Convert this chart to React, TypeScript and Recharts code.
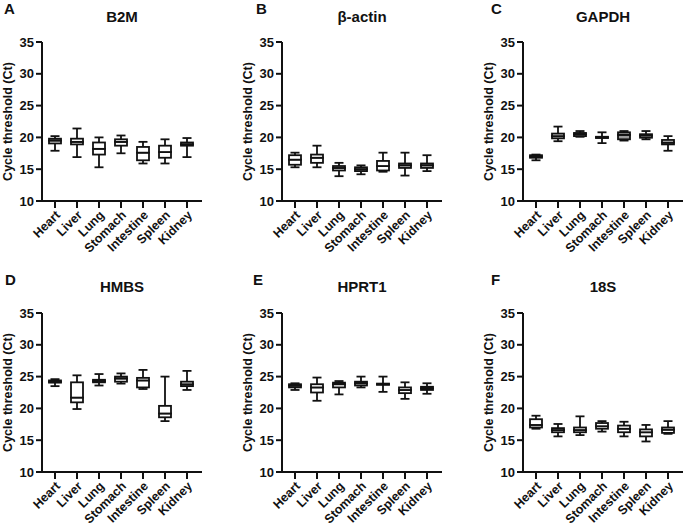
import React from "react";
import { ComposedChart, Bar, XAxis, YAxis, Label } from "recharts";

const tissues = ["Heart", "Liver", "Lung", "Stomach", "Intestine", "Spleen", "Kidney"];
const yTicks = [10, 15, 20, 25, 30, 35];

// each row: [min, Q1, median, Q3, max] in tissue order
const b2m = [
  [17.9, 19.05, 19.5, 19.8, 20.2],
  [16.9, 18.9, 19.3, 19.8, 21.4],
  [15.3, 17.3, 18.2, 19.2, 20.0],
  [17.5, 18.7, 19.3, 19.7, 20.3],
  [15.9, 16.4, 17.6, 18.5, 19.3],
  [15.9, 16.8, 17.7, 18.7, 19.7],
  [16.9, 18.7, 18.9, 19.2, 19.9],
];
const bActin = [
  [15.3, 15.7, 16.5, 17.2, 17.6],
  [15.3, 16.0, 16.8, 17.3, 18.7],
  [13.9, 14.8, 15.2, 15.5, 16.0],
  [14.2, 14.7, 15.0, 15.3, 15.6],
  [14.6, 14.8, 15.5, 16.3, 17.6],
  [14.0, 15.2, 15.6, 15.9, 17.6],
  [14.7, 15.2, 15.6, 15.9, 17.2],
];
const gapdh = [
  [16.4, 16.8, 17.0, 17.2, 17.3],
  [19.4, 19.85, 20.2, 20.6, 21.7],
  [20.1, 20.2, 20.5, 20.7, 21.0],
  [19.1, 19.9, 20.0, 20.1, 20.8],
  [19.5, 19.7, 20.4, 20.8, 21.0],
  [19.7, 19.95, 20.3, 20.5, 21.0],
  [17.9, 18.9, 19.2, 19.6, 20.2],
];
const hmbs = [
  [23.5, 24.05, 24.2, 24.4, 24.6],
  [19.9, 20.95, 21.7, 24.1, 25.2],
  [23.6, 24.1, 24.3, 24.5, 25.4],
  [23.9, 24.2, 24.7, 25.0, 25.5],
  [23.05, 23.3, 24.4, 24.8, 26.05],
  [18.0, 18.6, 19.2, 20.4, 25.0],
  [22.9, 23.5, 23.8, 24.2, 25.9],
];
const hprt1 = [
  [22.9, 23.3, 23.6, 23.8, 23.95],
  [21.2, 22.5, 23.3, 23.8, 24.85],
  [22.2, 23.3, 23.8, 24.05, 24.3],
  [23.3, 23.6, 23.95, 24.2, 25.0],
  [22.6, 23.7, 23.8, 23.9, 25.0],
  [21.5, 22.4, 22.9, 23.3, 24.1],
  [22.3, 22.9, 23.15, 23.4, 23.95],
];
const s18 = [
  [16.8, 17.0, 17.4, 18.3, 18.85],
  [15.6, 16.25, 16.6, 16.9, 17.55],
  [15.8, 16.25, 16.6, 17.0, 18.75],
  [16.35, 16.8, 17.2, 17.7, 18.0],
  [15.6, 16.25, 16.8, 17.3, 17.9],
  [14.8, 15.6, 16.25, 16.7, 17.4],
  [16.0, 16.15, 16.65, 17.0, 18.0],
];

const gapdhFills = ["#fff", "#d6d6d6", "#fff", "#fff", "#9c9c9c", "#fff", "#fff"];

const panels = [
  { letter: "A", title: "B2M", stats: b2m, left: 0, top: 0, letterX: 4 },
  { letter: "B", title: "β-actin", stats: bActin, left: 240, top: 0, letterX: 16 },
  { letter: "C", title: "GAPDH", stats: gapdh, left: 481, top: 0, letterX: 10, fills: gapdhFills },
  { letter: "D", title: "HMBS", stats: hmbs, left: 0, top: 262, letterX: 5 },
  { letter: "E", title: "HPRT1", stats: hprt1, left: 240, top: 262, letterX: 13 },
  { letter: "F", title: "18S", stats: s18, left: 481, top: 262, letterX: 10 },
];

const FONT = "'Liberation Sans', Arial, Helvetica, sans-serif";
const INK = "#111";
const LW = 1.8;
const PLOT_H = 159;

const Empty = () => <g />;

const LowWhisker = (p: any) => {
  const cx = p.x + p.width / 2;
  const yb = p.y + p.height;
  return (
    <g stroke={INK} strokeWidth={LW}>
      <line x1={cx} x2={cx} y1={p.y} y2={yb} />
      <line x1={cx - 4.5} x2={cx + 4.5} y1={yb} y2={yb} />
    </g>
  );
};

const HighWhisker = (p: any) => {
  const cx = p.x + p.width / 2;
  return (
    <g stroke={INK} strokeWidth={LW}>
      <line x1={cx} x2={cx} y1={p.y} y2={p.y + p.height} />
      <line x1={cx - 4.5} x2={cx + 4.5} y1={p.y} y2={p.y} />
    </g>
  );
};

const BoxPart = (p: any) => (
  <rect x={p.x} y={p.y} width={p.width} height={Math.max(p.height, 0)}
    fill={p.payload.fill} stroke={INK} strokeWidth={LW} />
);

const TissueTick = (p: any) => (
  <g transform={`translate(${p.x + 3},${p.y + 3})`}>
    <text x={0} y={0} dy={4} textAnchor="end" transform="rotate(-45)"
      fontSize={12.5} fontWeight="bold" fill={INK} fontFamily={FONT}>
      {p.payload.value}
    </text>
  </g>
);

function BoxPanel({ letter, title, stats, left, top, letterX, fills }: any) {
  const data = tissues.map((t, i) => {
    const [mn, q1, md, q3, mx] = stats[i];
    return {
      tissue: t,
      base: mn,
      lw: q1 - mn,
      bl: md - q1,
      bh: q3 - md,
      hw: mx - q3,
      fill: fills ? fills[i] : "#fff",
    };
  });
  const bottomRow = top > 0;
  const mTop = bottomRow ? 51 : 42;
  const h = bottomRow ? 265 : 262;

  return (
    <div style={{ position: "absolute", left, top, width: 206, height: h }}>
      <div style={{ position: "absolute", left: letterX, top: bottomRow ? 10 : 1, fontFamily: FONT,
        fontWeight: "bold", fontSize: 15, lineHeight: "15px", color: INK }}>{letter}</div>
      <div style={{ position: "absolute", left: 42, width: 160, top: bottomRow ? 17 : 9, textAlign: "center",
        fontFamily: FONT, fontWeight: "bold", fontSize: 15, lineHeight: "15px", color: INK }}>{title}</div>
      <ComposedChart width={206} height={h} data={data}
        margin={{ top: mTop, right: 4, bottom: 0, left: 8 }} barSize={12}>
        <XAxis dataKey="tissue" height={h - mTop - PLOT_H} interval={0} padding={{ left: 2, right: 4 }}
          tickSize={7} tick={<TissueTick />}
          axisLine={{ stroke: INK, strokeWidth: 2 }} tickLine={{ stroke: INK, strokeWidth: 2 }} />
        <YAxis width={34} domain={[10, 35]} ticks={yTicks} allowDataOverflow
          tickSize={6} tickMargin={2}
          tick={{ fill: INK, fontSize: 13, fontWeight: "bold", fontFamily: FONT }}
          axisLine={{ stroke: INK, strokeWidth: 2 }} tickLine={{ stroke: INK, strokeWidth: 2 }}>
          <Label content={(lp: any) => {
            const vb = lp.viewBox;
            const cx = vb.x + vb.width - 34;
            const cy = vb.y + vb.height / 2;
            return (
              <text x={cx} y={cy} textAnchor="middle" dominantBaseline="central"
                transform={`rotate(-90, ${cx}, ${cy})`} fontSize={12.5} fontWeight="bold"
                fill={INK} fontFamily={FONT}>Cycle threshold (Ct)</text>
            );
          }} />
        </YAxis>
        <Bar dataKey="base" stackId="box" shape={<Empty />} isAnimationActive={false} />
        <Bar dataKey="lw" stackId="box" shape={<LowWhisker />} isAnimationActive={false} />
        <Bar dataKey="bl" stackId="box" shape={<BoxPart />} isAnimationActive={false} />
        <Bar dataKey="bh" stackId="box" shape={<BoxPart />} isAnimationActive={false} />
        <Bar dataKey="hw" stackId="box" shape={<HighWhisker />} isAnimationActive={false} />
      </ComposedChart>
    </div>
  );
}

export default function App() {
  return (
    <div style={{ position: "absolute", left: 0, top: 0, width: 685, height: 527, background: "#fff", overflow: "hidden" }}>
      {panels.map((p) => (
        <BoxPanel key={p.letter} {...p} />
      ))}
    </div>
  );
}
